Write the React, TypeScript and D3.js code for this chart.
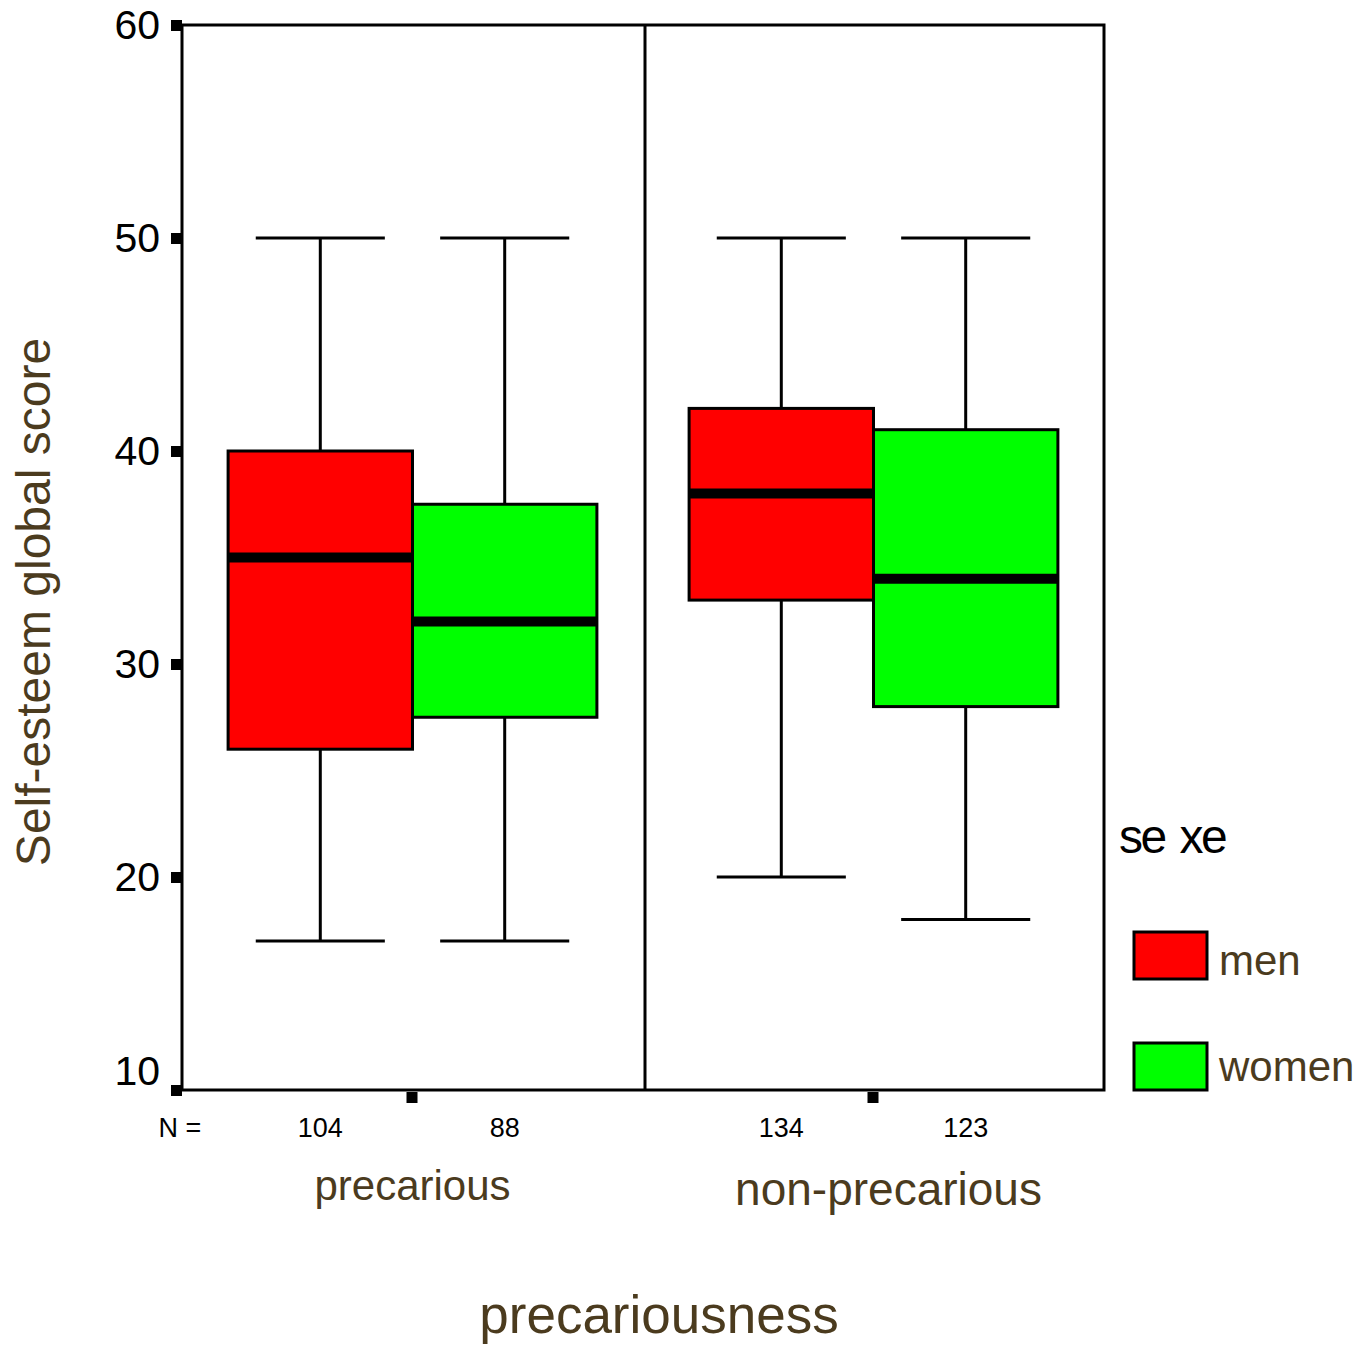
import React from "react";
import * as d3 from "d3";

const groups = ["precarious", "non-precarious"];
const sexes = ["men", "women"];
const colors = ["#ff0000", "#00ff00"];
const yTicks = [10, 20, 30, 40, 50, 60];
// [group][sex]
const whiskerLow = [[17, 17], [20, 18]];
const q1 = [[26, 27.5], [33, 28]];
const medians = [[35, 32], [38, 34]];
const q3 = [[40, 37.5], [42, 41]];
const whiskerHigh = [[50, 50], [50, 50]];
const counts = [[104, 88], [134, 123]];

const BROWN = "#4b3b1e";
const FONT = "Liberation Sans, Arial, sans-serif";

export default function App() {
  const W = 1367, H = 1345;
  const left = 182, right = 1104, top = 25, bottom = 1090;
  const y = d3.scaleLinear().domain([10, 60]).range([bottom, top]);
  const gx = d3.scaleBand<string>().domain(groups).range([left, right]).padding(0);
  const sx = d3.scaleBand<string>().domain(sexes).range([0, gx.bandwidth()]).paddingInner(0).paddingOuter(0.25);
  const bw = sx.bandwidth();
  const capHalf = bw * 0.35;

  const boxes: any[] = [];
  groups.forEach((g, gi) => {
    sexes.forEach((s, si) => {
      const x0 = (gx(g) as number) + (sx(s) as number);
      const cx = x0 + bw / 2;
      boxes.push({ g, gi, s, si, x0, cx });
    });
  });

  return (
    <svg width={W} height={H} style={{ position: "absolute", left: 0, top: 0, background: "#fff" }} fontFamily={FONT}>
      {/* whiskers */}
      {boxes.map((b) => (
        <g key={"w" + b.g + b.s} stroke="#000" strokeWidth={3}>
          <line x1={b.cx} x2={b.cx} y1={y(whiskerLow[b.gi][b.si])} y2={y(whiskerHigh[b.gi][b.si])} />
          <line x1={b.cx - capHalf} x2={b.cx + capHalf} y1={y(whiskerLow[b.gi][b.si])} y2={y(whiskerLow[b.gi][b.si])} />
          <line x1={b.cx - capHalf} x2={b.cx + capHalf} y1={y(whiskerHigh[b.gi][b.si])} y2={y(whiskerHigh[b.gi][b.si])} />
        </g>
      ))}
      {/* boxes */}
      {boxes.map((b) => (
        <g key={"b" + b.g + b.s}>
          <rect x={b.x0} y={y(q3[b.gi][b.si])} width={bw} height={y(q1[b.gi][b.si]) - y(q3[b.gi][b.si])}
            fill={colors[b.si]} stroke="#000" strokeWidth={3} />
          <line x1={b.x0} x2={b.x0 + bw} y1={y(medians[b.gi][b.si])} y2={y(medians[b.gi][b.si])} stroke="#000" strokeWidth={10} />
        </g>
      ))}
      {/* frame */}
      <rect x={left} y={top} width={right - left} height={bottom - top} fill="none" stroke="#000" strokeWidth={3} />
      <line x1={(gx("non-precarious") as number) + 2} x2={(gx("non-precarious") as number) + 2} y1={top} y2={bottom} stroke="#000" strokeWidth={3} />
      {/* y ticks */}
      {yTicks.map((t) => (
        <g key={"yt" + t}>
          <rect x={171} y={Math.min(y(t), bottom + 2) - 5} width={11} height={11} fill="#000" />
          <text x={160} y={Math.min(y(t), bottom - 19)} dy="0.35em" textAnchor="end" fontSize={41} fill="#000">{t}</text>
        </g>
      ))}
      {/* x ticks */}
      {groups.map((g) => (
        <rect key={"xt" + g} x={(gx(g) as number) + gx.bandwidth() / 2 - 6} y={1092} width={11} height={11} fill="#000" />
      ))}
      {/* N labels */}
      <text x={180} y={1137} textAnchor="middle" fontSize={27} fill="#000">N =</text>
      {boxes.map((b) => (
        <text key={"n" + b.g + b.s} x={b.cx} y={1137} textAnchor="middle" fontSize={27} fill="#000">{counts[b.gi][b.si]}</text>
      ))}
      {/* group labels */}
      <text x={(gx("precarious") as number) + gx.bandwidth() / 2} y={1200} textAnchor="middle" fontSize={42} fill={BROWN}>precarious</text>
      <text x={(gx("non-precarious") as number) + gx.bandwidth() / 2 + 15} y={1205} textAnchor="middle" fontSize={46} fill={BROWN}>non-precarious</text>
      <text x={659} y={1333} textAnchor="middle" fontSize={53} fill={BROWN}>precariousness</text>
      <text transform="translate(50,602) rotate(-90)" textAnchor="middle" fontSize={48} fill={BROWN}>Self-esteem global score</text>
      {/* legend */}
      <text x={1119} y={853} fontSize={48} letterSpacing={-2.5} wordSpacing={4} fill="#000">se xe</text>
      {sexes.map((s, i) => (
        <g key={"lg" + s}>
          <rect x={1134} y={932 + i * 111} width={73} height={47} fill={colors[i]} stroke="#000" strokeWidth={3} />
          <text x={1219} y={975 + i * 106} fontSize={42} fill={BROWN}>{s}</text>
        </g>
      ))}
    </svg>
  );
}
